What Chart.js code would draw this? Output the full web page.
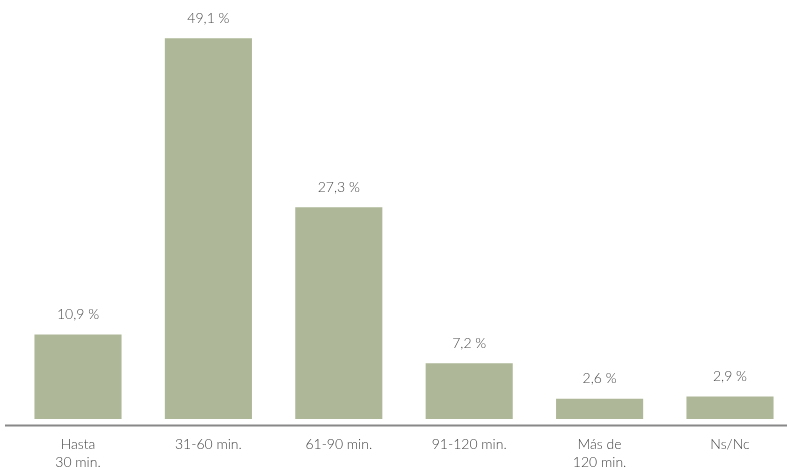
<!DOCTYPE html>
<html>
<head>
<meta charset="utf-8">
<script src="https://cdn.jsdelivr.net/npm/chart.js@4"></script>
<style>
  html, body { margin: 0; padding: 0; background: #fff; }
  #wrap { width: 787px; height: 467px; }
</style>
</head>
<body>
<div id="wrap"><canvas id="myChart"></canvas></div>
<script>
// data
const categories = [['Hasta', '30 min.'], '31-60 min.', '61-90 min.', '91-120 min.', ['Más de', '120 min.'], 'Ns/Nc'];
const percentages = [10.9, 49.1, 27.3, 7.2, 2.6, 2.9];

const barColor = '#aeb898';

// value labels above bars, spanish decimal comma
const valueLabels = {
  id: 'valueLabels',
  afterDatasetsDraw(chart) {
    const ctx = chart.ctx;
    const meta = chart.getDatasetMeta(0);
    ctx.save();
    ctx.font = '300 14px Lato, "Open Sans", sans-serif';
    ctx.fillStyle = '#4a4a4a';
    ctx.textAlign = 'center';
    ctx.textBaseline = 'middle';
    meta.data.forEach((bar, i) => {
      const txt = percentages[i].toFixed(1).replace('.', ',') + ' %';
      ctx.fillText(txt, bar.x, bar.y - 20);
    });
    ctx.restore();
  }
};

// long grey base line under the bars
const baseLine = {
  id: 'baseLine',
  afterDatasetsDraw(chart) {
    const ctx = chart.ctx;
    const y = chart.scales.y.getPixelForValue(0) + 6.5;
    ctx.save();
    ctx.strokeStyle = '#888';
    ctx.lineWidth = 2;
    ctx.beginPath();
    ctx.moveTo(5, y);
    ctx.lineTo(chart.width, y);
    ctx.stroke();
    ctx.restore();
  }
};

const config = {
  type: 'bar',
  data: {
    labels: categories,
    datasets: [{
      data: percentages,
      backgroundColor: barColor,
      borderWidth: 0,
      barPercentage: 0.668,
      categoryPercentage: 1,
      clip: false
    }]
  },
  options: {
    responsive: true,
    maintainAspectRatio: false,
    animation: false,
    layout: { padding: { left: 78, right: 57, top: 8, bottom: -21 } },
    plugins: {
      legend: { display: false },
      tooltip: { enabled: false }
    },
    scales: {
      x: {
        offset: false,
        grid: { display: false, drawTicks: false },
        border: { display: false },
        ticks: {
          padding: 17,
          maxRotation: 0,
          autoSkip: false,
          color: '#444',
          font: { family: 'Lato, "Open Sans", sans-serif', size: 14, weight: '300', lineHeight: 1.25 }
        }
      },
      y: {
        display: false,
        min: 0,
        max: 53
      }
    }
  },
  plugins: [valueLabels, baseLine]
};

const myChart = new Chart(document.getElementById('myChart'), config);
</script>
</body>
</html>
